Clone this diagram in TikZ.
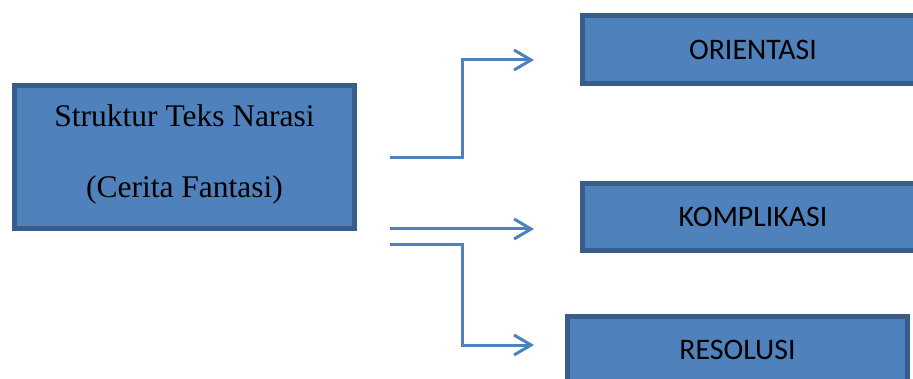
\documentclass[tikz,border=0pt]{standalone}
\usepackage{fontspec}
\setmainfont{Liberation Serif}
\newfontfamily\calibri{Carlito}
\usetikzlibrary{arrows.meta,calc}
\definecolor{boxfill}{HTML}{4F81BD}
\definecolor{boxline}{HTML}{385D8A}
\definecolor{arrowcol}{HTML}{4F81BD}
\tikzset{
  bluebox/.style={draw=boxline, fill=boxfill, line width=5pt, rectangle, inner sep=0pt},
  serifText/.style={font=\fontsize{31.5}{38}\selectfont, text=black, inner sep=0pt, anchor=base},
  sansText/.style={font=\calibri\fontsize{29.8}{35}\selectfont, text=black, inner sep=0pt},
  conn/.style={draw=arrowcol, line width=3pt, -{Straight Barb[length=17pt,width=20pt]}}
}
\begin{document}
\begin{tikzpicture}[x=1pt,y=-1pt]
\useasboundingbox (0,0) rectangle (913,379);
\clip (0,0) rectangle (913,379);
\fill[white] (0,0) rectangle (913,379);
% left box
\node[bluebox, minimum width=340pt, minimum height=143pt] (src) at (184.5,157) {};
\node[serifText] (srcA) at (184.5,127) {Struktur Teks Narasi};
\node[serifText] (srcB) at (184.5,198) {(Cerita Fantasi)};
% right boxes
\node[bluebox, minimum width=341pt, minimum height=68pt] (ori) at (753,49.5) {};
\node[sansText] (oriT) at (ori.center) {ORIENTASI};
\node[bluebox, minimum width=341pt, minimum height=67pt] (kom) at (753,217) {};
\node[sansText] (komT) at (kom.center) {KOMPLIKASI};
\node[bluebox, minimum width=340pt, minimum height=67pt] (res) at (737.5,350) {};
\node[sansText] (resT) at (res.center) {RESOLUSI};
% connector ends
\coordinate (a1s) at (390,158);
\coordinate (a1e) at (534,60);
\coordinate (a2s) at (390,229);
\coordinate (a2e) at (534,229);
\coordinate (a3s) at (390,245);
\coordinate (a3e) at (534,345);
\draw[conn] (a1s) -| ($(a1s)!.5!(a1e)$) |- (a1e);
\draw[conn] (a2s) -- (a2e);
\draw[conn] (a3s) -| ($(a3s)!.5!(a3e)$) |- (a3e);
\end{tikzpicture}
\end{document}
